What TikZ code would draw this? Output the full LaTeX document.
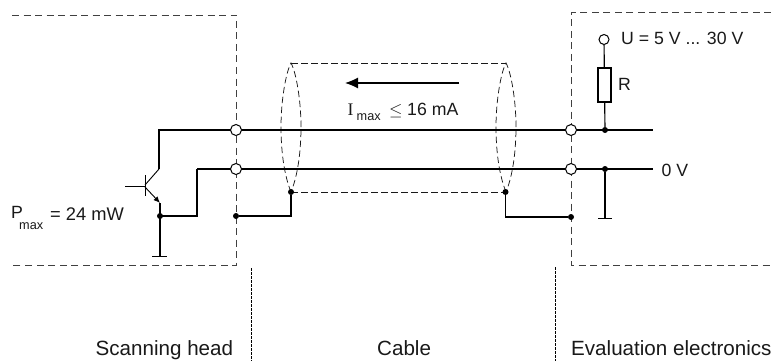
\documentclass[tikz,border=0pt]{standalone}
\usepackage{fontspec}
\setmainfont{Liberation Sans}
\newfontfamily\serifimax{Liberation Serif}
\usetikzlibrary{arrows.meta}
\tikzset{
  wire/.style={line width=1.15pt,line cap=butt},
  thinwire/.style={line width=0.9pt},
  bound/.style={line width=0.9pt,draw=black!75,dash pattern=on 7pt off 4.5pt},
  shield/.style={line width=0.75pt,draw=black!90,dash pattern=on 6.5pt off 3.5pt},
  sep/.style={line width=0.7pt,draw=black,dash pattern=on 2.5pt off 1.5pt},
  term/.style={circle,draw=black,fill=white,line width=1pt,minimum size=10pt,inner sep=0pt},
  dotn/.style={circle,fill=black,minimum size=6pt,inner sep=0pt},
  lab/.style={font=\fontsize{17.7}{20}\selectfont,inner sep=0pt,text=black!90},
  powlab/.style={font=\fontsize{18.3}{20}\selectfont,inner sep=0pt,text=black!90},
  biglab/.style={font=\fontsize{20.6}{23}\selectfont,inner sep=0pt,text=black!90},
  sublab/.style={font=\fontsize{12.7}{14}\selectfont,inner sep=0pt,text=black!90},
}
\begin{document}
\begin{tikzpicture}[x=1pt,y=-1pt]
\useasboundingbox (0,0) rectangle (771,361);
% boundaries
\draw[bound] (12,15) -- (236,15) -- (236,265.5) -- (12,265.5);
\draw[bound] (771,12.5) -- (571,12.5) -- (571,265) -- (771,265);
\draw[sep] (251,268) -- (251,361);
\draw[sep] (555.5,267) -- (555.5,361);
% named points
\coordinate (topL) at (159,130);
\coordinate (topR) at (653,130);
\coordinate (botL) at (197,169);
\coordinate (botR) at (653,169);
\coordinate (ctop) at (159,169);
\coordinate (etop) at (160,203);
\coordinate (gndL) at (160,256);
\coordinate (gndR) at (605,218);
% cable shield
\draw[shield] (291,192) .. controls (282,170) and (281,140) .. (281,127) .. controls (281,100) and (286,72) .. (291,63) .. controls (296,72) and (301,100) .. (301,127) .. controls (301,140) and (300,170) .. (291,192);
\draw[shield] (506,192) .. controls (497,170) and (496,140) .. (496,127) .. controls (496,100) and (501,72) .. (506,63) .. controls (511,72) and (516,100) .. (516,127) .. controls (516,140) and (515,170) .. (506,192);
\draw[shield] (291,63) -- (506,63);
\draw[shield] (291,192) -- (506,192);
% lines
\draw[wire] (ctop) -- (topL) -- (topR);
\draw[wire] (botL) -- (botR);
\draw[wire] (botL) -- (197,216) -- (160,216);
\draw[wire] (etop) -- (gndL);
\draw[thinwire] (152,256) -- (167,256);
% transistor
\draw[thinwire] (125,186) -- (145,186);
\draw[thinwire] (145,175) -- (145,196);
\draw[thinwire] (145,185) -- (159,169);
\draw[thinwire,-{Latex[length=6.5pt,width=5.5pt]}] (145,187) -- (160,203);
% shield connections
\node[dotn] (d1) at (236,216) {};
\node[dotn] (d2) at (291,192) {};
\draw[wire] (d1) -- (291,216) -- (d2);
\node[dotn] (d3) at (505.5,192) {};
\node[dotn] (d4) at (571,217) {};
\draw[wire] (d3) -- (505.5,217) -- (d4);
\node[dotn] at (160,216) {};
% terminals
\node[term,minimum size=11pt] (t1) at (236,130) {};
\node[term,minimum size=11pt] (t2) at (236,169) {};
\node[term,minimum size=11pt] (t3) at (571,130) {};
\node[term,minimum size=11pt] (t4) at (571,169) {};
% right side
\node[dotn] (d5) at (605,130) {};
\node[dotn] (d6) at (605,169) {};
\node[term] (supply) at (604,39.5) {};
\node[draw=black,line width=1.2pt,minimum width=13pt,minimum height=34pt,inner sep=0pt] (res) at (604.5,85) {};
\draw[wire] (supply) -- (res);
\draw[wire] (res) -- (d5);
\draw[wire] (d6) -- (gndR);
\draw[thinwire] (598,218) -- (612,218);
% arrow
\draw[line width=1.1pt,-{Latex[length=13pt,width=11pt]}] (459,83) -- (345,83);
% labels
\node[lab,anchor=base west] at (621,45) {U = 5 V ... 30 V};
\node[lab,anchor=base west] at (618,91) {R};
\node[lab,anchor=base west] at (661.5,176.5) {0 V};
\node[lab,anchor=base west] at (347.5,115) {{\serifimax I}};
\node[sublab,anchor=base west] at (356.5,120.5) {max};
\node[lab,anchor=base west] at (389,115.5) {$\leq$};
\node[lab,anchor=base west] at (407,115) {16 mA};
\node[lab,anchor=base west] at (11,218) {P};
\node[sublab,anchor=base west] at (19,229) {max};
\node[powlab,anchor=base west] at (50,220) {= 24 mW};
\node[biglab,anchor=base west] at (95.5,355) {Scanning head};
\node[biglab,anchor=base west] at (377,355) {Cable};
\node[biglab,anchor=base west] at (571,355) {Evaluation electronics};
\end{tikzpicture}
\end{document}
